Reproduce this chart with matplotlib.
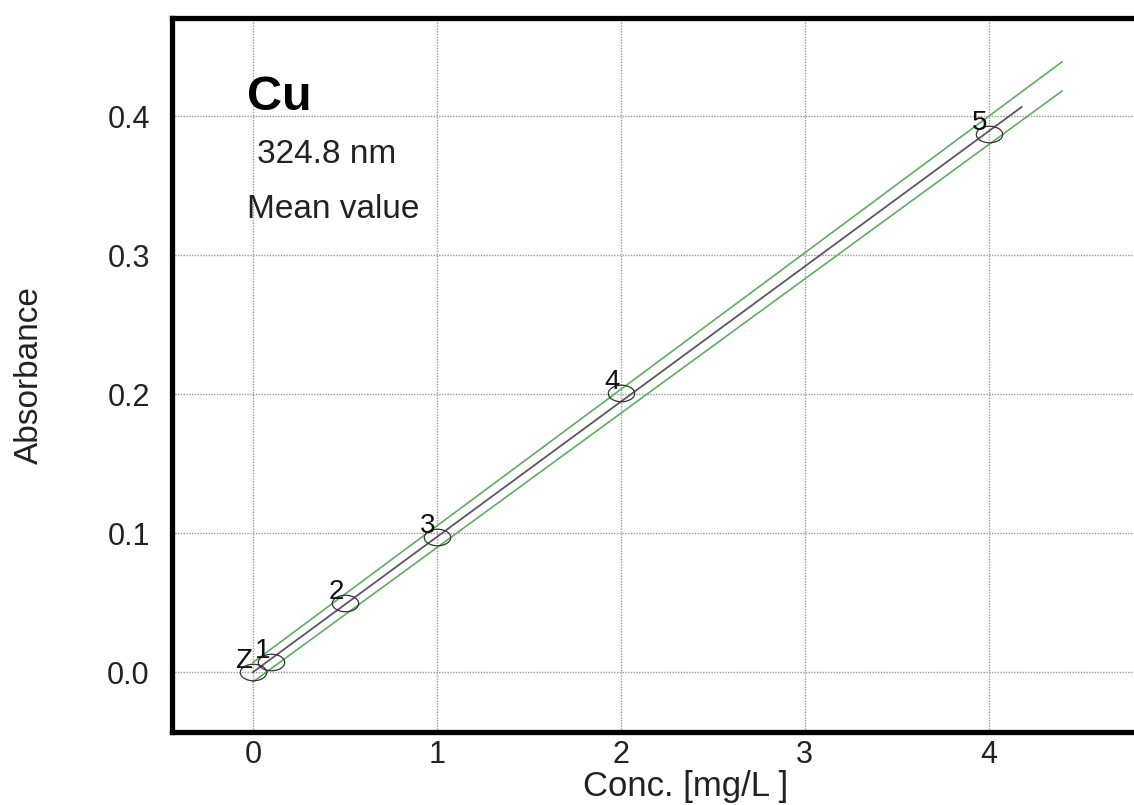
import numpy as np
import matplotlib
matplotlib.use("Agg")
import matplotlib.pyplot as plt
from matplotlib.path import Path

plt.rcParams['font.family'] = ['Liberation Sans', 'DejaVu Sans']

# data
std_labels = ["Z", "1", "2", "3", "4", "5"]
conc = [0.0, 0.1, 0.5, 1.0, 2.0, 4.0]
absorb = [0.000, 0.007, 0.050, 0.097, 0.201, 0.387]

fit_x = [0.0, 4.18]
fit_y = [0.0, 0.4065]
band_x = [0.0, 4.40]
band_upper = [0.007, 0.439]
band_lower = [-0.007, 0.418]

xticks = [0, 1, 2, 3, 4]
yticks = [0.0, 0.1, 0.2, 0.3, 0.4]

fig = plt.figure(figsize=(11.34, 8.05), dpi=100)
ax = fig.add_axes([172/1134, 73/805, (1200-172)/1134, (787-73)/805])
ax.set_xlim(-0.44, 5.15)
ax.set_ylim(-0.043, 0.4705)

ax.grid(True, color='#9a9a9a', linestyle=(0, (1, 1)), linewidth=1.0)
ax.set_axisbelow(True)

green = '#5fae5f'
ax.plot(band_x, band_upper, color=green, lw=1.2)
ax.plot(band_x, band_lower, color=green, lw=1.2)
ax.plot(fit_x, fit_y, color='#5c5562', lw=1.3)

t = np.linspace(0, 2*np.pi, 60)
ell = Path(np.column_stack([1.6*np.cos(t), np.sin(t)]), closed=True)
ax.plot(conc, absorb, linestyle='none', marker=ell, markersize=19,
        markerfacecolor='none', markeredgecolor='#333333', markeredgewidth=0.9)
for lab, x, y in zip(std_labels, conc, absorb):
    ax.annotate(lab, (x, y), xytext=(-9, 11), textcoords='offset pixels',
                ha='center', va='center', fontsize=20, color='#111111')

ax.text(-0.033, 0.404, "Cu", fontsize=35, fontweight='bold', ha='left', va='baseline')
ax.text(0.022, 0.366, "324.8 nm", fontsize=24, ha='left', va='baseline', color='#222222')
ax.text(-0.033, 0.327, "Mean value", fontsize=24, ha='left', va='baseline', color='#222222')

ax.set_xticks(xticks)
ax.set_xticklabels([str(v) for v in xticks])
ax.set_yticks(yticks)
ax.set_yticklabels([f"{v:.1f}" for v in yticks])
ax.tick_params(axis='both', length=0, labelsize=22, colors='#222222')
ax.tick_params(axis='y', pad=16)
ax.tick_params(axis='x', pad=6)

ax.set_xlabel("Conc. [mg/L ]", fontsize=25, color='#222222', labelpad=0)
ax.set_ylabel("Absorbance", fontsize=24, color='#222222', labelpad=45)

for s in ['left', 'top', 'bottom']:
    ax.spines[s].set_linewidth(3.8)
    ax.spines[s].set_color('black')
ax.spines['right'].set_visible(False)

fig.savefig("out.png", dpi=100)
